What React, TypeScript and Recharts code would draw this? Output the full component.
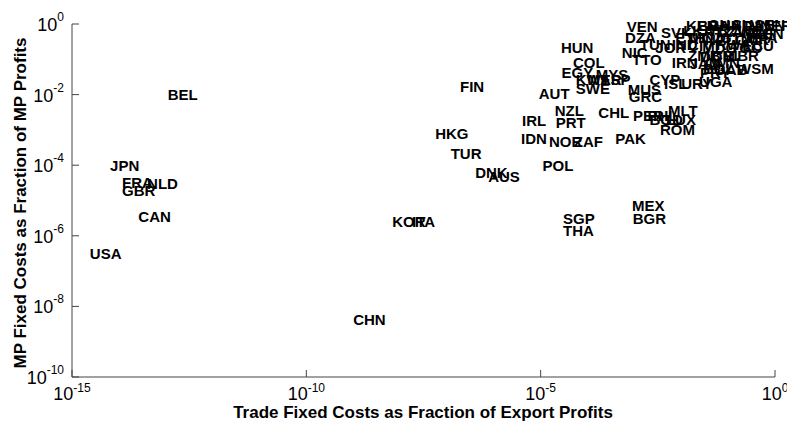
import React from "react"
import { ScatterChart, Scatter, XAxis, YAxis } from "recharts"

// country codes with their fixed-cost fractions (x: trade, y: MP)
const codes = [
  "BEL", "JPN", "FRA", "NLD", "GBR", "CAN", "USA", "CHN", "KOR", "ITA",
  "FIN", "HKG", "TUR", "DNK", "AUS", "AUT", "NZL", "IRL", "PRT", "IDN",
  "NOR", "ZAF", "POL", "CHL", "PAK", "EGY", "COL", "HUN", "MYS", "SWE",
  "KWT", "MAR", "ESP", "SGP", "THA", "MEX", "BGR", "PER", "PHL", "MLT",
  "BGD", "LUX", "ROM", "MUS", "GRC", "CYP", "ISL", "URY", "UGA", "WSM",
  "VEN", "DZA", "SVK", "NIC", "TTO", "IRN", "TUN", "JOR", "IND", "KEN",
  "BRA", "GHA", "HND", "SLV", "PAN", "SEN", "NER", "LKA", "SYR", "TZA",
  "ZWE", "MWI", "BEN", "ETH", "MOZ", "NPL", "GTM", "CMR", "BFA", "CIV",
  "MDG", "RWA", "TGO", "ECU", "ZMB", "DOM", "CRI", "LBR", "JAM", "BOL",
  "PRY", "OMN", "GAB",
]

const tradeCost = [
  1.1e-13, 6.5e-15, 1.17e-14, 4.0e-14, 1.17e-14, 2.6e-14, 2.4e-15, 1.0e-9, 6.8e-9, 1.8e-8,
  1.9e-7, 5.6e-8, 1.2e-7, 4.0e-7, 7.6e-7, 9.1e-6, 2.0e-5, 4.0e-6, 2.1e-5, 3.8e-6,
  1.5e-5, 5.1e-5, 1.1e-5, 1.7e-4, 3.9e-4, 2.8e-5, 4.9e-5, 2.7e-5, 1.5e-4, 5.6e-5,
  5.6e-5, 1.0e-4, 1.9e-4, 3.0e-5, 3.0e-5, 8.9e-4, 9.2e-4, 9.3e-4, 1.9e-3, 5.2e-3,
  2.1e-3, 4.7e-3, 3.5e-3, 7.2e-4, 7.6e-4, 2.1e-3, 4.3e-3, 1.0e-2, 2.4e-2, 0.155,
  6.9e-4, 6.3e-4, 3.7e-3, 5.4e-4, 8.9e-4, 6.3e-3, 1.3e-3, 2.8e-3, 6.3e-3, 1.26e-2,
  2.2e-2, 3.7e-2, 6.7e-2, 0.12, 0.22, 0.36, 0.48, 1.1e-2, 2.3e-2, 5.0e-2,
  0.1, 0.2, 0.32, 7.4e-3, 1.5e-2, 3.2e-2, 6.7e-2, 0.14, 0.26, 1.4e-2,
  2.8e-2, 5.5e-2, 0.11, 0.2, 1.4e-2, 2.5e-2, 4.5e-2, 0.1, 1.5e-2, 2.9e-2,
  2.5e-2, 3.2e-2, 5.0e-2,
]

const mpCost = [
  9.8e-3, 9.5e-5, 3.3e-5, 3.0e-5, 1.9e-5, 3.4e-6, 3.2e-7, 4.1e-9, 2.6e-6, 2.6e-6,
  1.7e-2, 8.1e-4, 2.1e-4, 6.0e-5, 4.7e-5, 1.1e-2, 3.6e-3, 1.8e-3, 1.6e-3, 5.5e-4,
  4.6e-4, 4.6e-4, 1.0e-4, 3.0e-3, 5.5e-4, 4.1e-2, 8.3e-2, 0.21, 3.8e-2, 1.5e-2,
  2.6e-2, 2.6e-2, 2.6e-2, 3.0e-6, 1.4e-6, 7.4e-6, 3.0e-6, 2.5e-3, 2.5e-3, 3.6e-3,
  1.9e-3, 2.0e-3, 1.0e-3, 1.35e-2, 8.5e-3, 2.6e-2, 2.0e-2, 2.0e-2, 2.3e-2, 5.6e-2,
  0.82, 0.4, 0.56, 0.15, 9.5e-2, 8.3e-2, 0.26, 0.21, 0.26, 0.93,
  0.93, 0.98, 0.93, 0.98, 0.93, 0.98, 0.88, 0.63, 0.68, 0.59,
  0.63, 0.56, 0.52, 0.4, 0.4, 0.35, 0.4, 0.35, 0.4, 0.24,
  0.22, 0.26, 0.22, 0.24, 0.13, 0.12, 0.13, 0.13, 7.4e-2, 5.6e-2,
  4.1e-2, 8.3e-2, 5.0e-2,
]

const xTicks = [1e-15, 1e-10, 1e-5, 1]
const yTicks = [1e-10, 1e-8, 1e-6, 1e-4, 1e-2, 1]

const data = codes.map((code, i) => ({ code, x: tradeCost[i], y: mpCost[i] }))

const font = "'Liberation Sans', Arial, Helvetica, sans-serif"
const axisColor = "#444"

const expOf = (v: number) => Math.round(Math.log10(v))

const XTick = (props: any) => {
  const { x, y, payload } = props
  return (
    <g>
      <line x1={x} y1={y} x2={x} y2={y - 7} stroke={axisColor} />
      <text x={x} y={y + 23} textAnchor="middle" fontFamily={font} fontSize={18} fill="#000">
        <tspan>10</tspan>
        <tspan dy={-8} fontSize={12}>{expOf(payload.value)}</tspan>
      </text>
    </g>
  )
}

const YTick = (props: any) => {
  const { x, y, payload } = props
  return (
    <g>
      <line x1={x} y1={y} x2={x + 7} y2={y} stroke={axisColor} />
      <text x={x - 8} y={y + 7} textAnchor="end" fontFamily={font} fontSize={18} fill="#000">
        <tspan>10</tspan>
        <tspan dy={-10} fontSize={12}>{expOf(payload.value)}</tspan>
      </text>
    </g>
  )
}

const CodeLabel = (props: any) => {
  const { cx, cy, payload } = props
  return (
    <text
      x={cx}
      y={cy}
      dy="0.36em"
      textAnchor="start"
      fontFamily={font}
      fontWeight="bold"
      fontSize={15}
      fill="#000"
    >
      {payload.code}
    </text>
  )
}

export default function App() {
  return (
    <div style={{ position: "absolute", left: 0, top: 0, width: 787, height: 424, background: "#fff" }}>
      <ScatterChart width={787} height={424} margin={{ top: 24, right: 12, bottom: 0, left: 0 }}>
        <XAxis
          type="number"
          dataKey="x"
          scale="log"
          domain={[1e-15, 1]}
          ticks={xTicks}
          height={47}
          tickSize={0}
          tickMargin={0}
          tickLine={false}
          tick={<XTick />}
          stroke={axisColor}
          interval={0}
        />
        <YAxis
          type="number"
          dataKey="y"
          scale="log"
          domain={[1e-10, 1]}
          ticks={yTicks}
          width={72}
          tickSize={0}
          tickMargin={0}
          tickLine={false}
          tick={<YTick />}
          stroke={axisColor}
          interval={0}
        />
        <Scatter data={data} shape={<CodeLabel />} isAnimationActive={false} />
        <text x={423} y={418} textAnchor="middle" fontFamily={font} fontWeight="bold" fontSize={17} fill="#000">
          Trade Fixed Costs as Fraction of Export Profits
        </text>
        <text
          x={26}
          y={203}
          transform="rotate(-90 26 203)"
          textAnchor="middle"
          fontFamily={font}
          fontWeight="bold"
          fontSize={17}
          fill="#000"
        >
          MP Fixed Costs as Fraction of MP Profits
        </text>
      </ScatterChart>
    </div>
  )
}
